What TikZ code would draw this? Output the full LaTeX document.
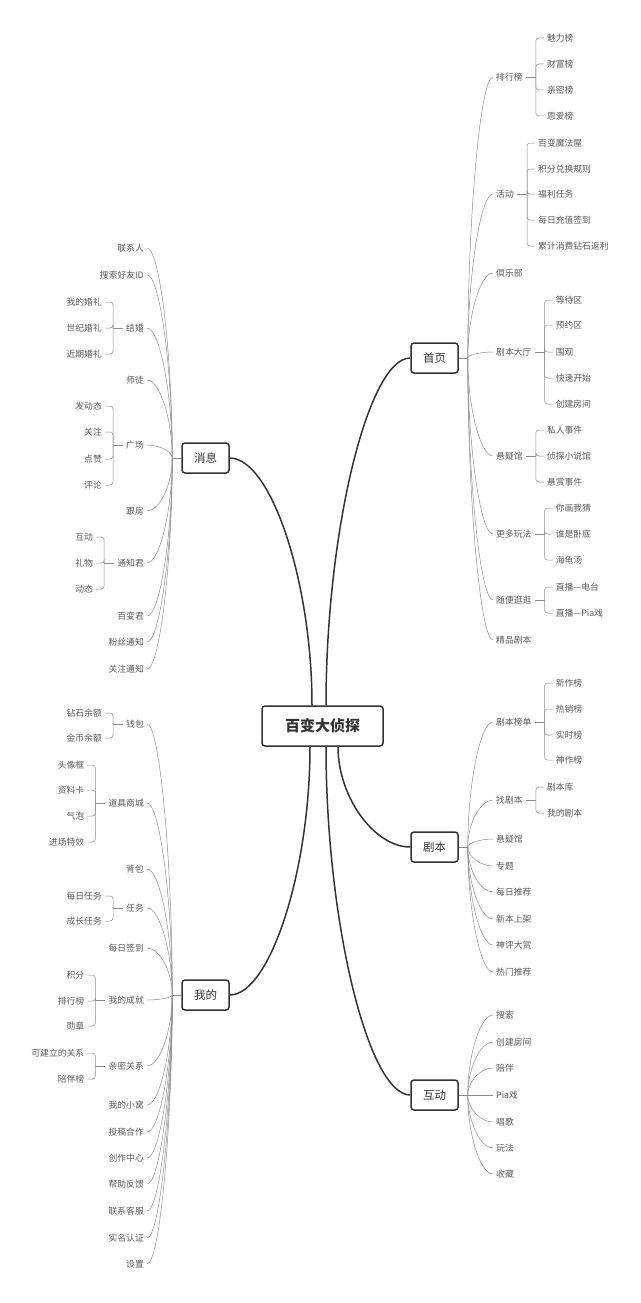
\documentclass[tikz,border=0pt]{standalone}
\usepackage{fontspec}
\setmainfont{Noto Sans CJK SC}
\usetikzlibrary{calc}

\definecolor{inkdark}{HTML}{333333}
\definecolor{inkgray}{HTML}{585858}
\definecolor{wiregray}{HTML}{8C8C8C}

\tikzset{
  rootbox/.style={draw=inkdark, line width=1.5pt, rounded corners=3pt, fill=white,
    text=inkdark, font=\fontsize{15}{16}\selectfont\bfseries,
    minimum width=121pt, minimum height=40pt, inner sep=0pt},
  topic/.style={draw=inkdark, line width=1.5pt, rounded corners=3pt, fill=white,
    text=inkdark, font=\fontsize{11.5}{12}\selectfont,
    minimum width=47pt, minimum height=30pt, inner sep=0pt},
  leaf/.style={text=inkgray, font=\fontsize{8.8}{9}\selectfont, inner xsep=3pt, inner ysep=1pt},
  leafr/.style={leaf, anchor=west},
  leafl/.style={leaf, anchor=east},
  mapcurve/.style={to path={.. controls ($(\tikztostart)!0.5!(\tikztostart |- \tikztotarget)$)
    and ($(\tikztotarget)!0.5!(\tikztostart |- \tikztotarget)$) .. (\tikztotarget)}},
  thick wire/.style={draw=inkdark, line width=1.5pt, mapcurve},
  thin wire/.style={draw=wiregray, line width=0.5pt},
}

\begin{document}
\begin{tikzpicture}[x=1pt, y=-1pt]
  \useasboundingbox (0,0) rectangle (640,1303);

  % centre and main topics
  \node[rootbox] (main) at (322.5,726) {百变大侦探};
  \node[topic] (home) at (434.5,358) {首页};
  \node[topic] (msg) at (205.5,458) {消息};
  \node[topic] (script) at (434.5,847) {剧本};
  \node[topic] (mine) at (205.5,995) {我的};
  \node[topic] (play) at (434.5,1095) {互动};

  \coordinate (mt1) at ([xshift=-10.5pt]main.north);
  \coordinate (mt2) at ([xshift=3.5pt]main.north);
  \coordinate (mb1) at ([xshift=-12.5pt]main.south);
  \coordinate (mb2) at ([xshift=3.5pt]main.south);
  \coordinate (mb3) at ([xshift=15.5pt]main.south);
  \draw[thick wire] (mt2) to (home.west);
  \draw[thick wire] (mt1) to (msg.east);
  \draw[thick wire] (mb3) to (script.west);
  \draw[thick wire] (mb1) to (mine.east);
  \draw[thick wire] (mb2) to (play.west);

  % hubs
  \coordinate (homehub) at ([xshift=9pt]home.east);
  \coordinate (scripthub) at ([xshift=9pt]script.east);
  \coordinate (playhub) at ([xshift=9pt]play.east);
  \coordinate (msghub) at ([xshift=-9pt]msg.west);
  \coordinate (minehub) at ([xshift=-9pt]mine.west);
  \draw[thin wire] (home.east) -- (homehub);
  \draw[thin wire] (script.east) -- (scripthub);
  \draw[thin wire] (play.east) -- (playhub);
  \draw[thin wire] (msg.west) -- (msghub);
  \draw[thin wire] (mine.west) -- (minehub);

  % 首页
  \foreach \n/\y/\t in {a1/77/排行榜, a2/194/活动, a3/273/俱乐部, a4/352/剧本大厅,
      a5/456/悬疑馆, a6/534/更多玩法, a7/600/随便逛逛, a8/640/精品剧本} {
    \node[leafr] (\n) at (493,\y) {\t};
    \draw[thin wire, mapcurve] (homehub) to (\n.west);
  }
  % 剧本
  \foreach \n/\y/\t in {j1/722/剧本榜单, j2/800/找剧本, j3/839/悬疑馆, j4/866/专题,
      j5/892/每日推荐, j6/919/新本上架, j7/945/神评大赏, j8/972/热门推荐} {
    \node[leafr] (\n) at (493,\y) {\t};
    \draw[thin wire, mapcurve] (scripthub) to (\n.west);
  }
  % 互动
  \foreach \n/\y/\t in {p1/1015/搜索, p2/1042/创建房间, p3/1068/陪伴, p4/1095/Pia戏,
      p5/1122/唱歌, p6/1148/玩法, p7/1174/收藏} {
    \node[leafr] (\n) at (493,\y) {\t};
    \draw[thin wire, mapcurve] (playhub) to (\n.west);
  }
  % 消息
  \foreach \n/\y/\t in {m1/248/联系人, m2/275/搜索好友ID, m3/328/结婚, m4/380/师徒,
      m5/445/广场, m6/511/跟房, m7/563/通知君, m8/616/百变君, m9/642/粉丝通知,
      m10/669/关注通知} {
    \node[leafl] (\n) at (147,\y) {\t};
    \draw[thin wire, mapcurve] (msghub) to (\n.east);
  }
  % 我的
  \foreach \n/\y/\t in {w1/724/钱包, w2/803/道具商城, w3/869/背包, w4/908/任务,
      w5/948/每日签到, w6/1000/我的成就, w7/1066/亲密关系, w8/1105/我的小窝,
      w9/1132/投稿合作, w10/1158/创作中心, w11/1184/帮助反馈, w12/1211/联系客服,
      w13/1238/实名认证, w14/1264/设置} {
    \node[leafl] (\n) at (147,\y) {\t};
    \draw[thin wire, mapcurve] (minehub) to (\n.east);
  }

  % brackets, right side
  \foreach \p/\list in {a1/{魅力榜/38, 财富榜/64, 亲密榜/90, 恩爱榜/116},
      a2/{百变魔法屋/143, 积分兑换规则/169, 福利任务/194, 每日充值签到/220, 累计消费钻石返利/246},
      a4/{等待区/300, 预约区/325, 围观/352, 快速开始/378, 创建房间/404},
      a5/{私人事件/430, 侦探小说馆/456, 悬赏事件/482},
      a6/{你画我猜/508, 谁是卧底/534, 海龟汤/560},
      a7/{直播—电台/587, 直播—Pia戏/613},
      j1/{新作榜/683, 热销榜/709, 实时榜/735, 神作榜/760},
      j2/{剧本库/787, 我的剧本/813}} {
    \coordinate (\p brace) at ([xshift=10pt]\p.east);
    \draw[thin wire] (\p.east) -- (\p brace);
    \foreach \t/\y [count=\i] in \list {
      \node[leafr, xshift=8pt] (\p-\i) at (\p brace |- 0,\y) {\t};
      \draw[thin wire, rounded corners=3pt] (\p brace) |- (\p-\i.west);
    }
  }
  % brackets, left side
  \foreach \p/\list in {m3/{我的婚礼/302, 世纪婚礼/328, 近期婚礼/354},
      m5/{发动态/406, 关注/432, 点赞/459, 评论/485},
      m7/{互动/537, 礼物/563, 动态/589},
      w1/{钻石余额/713, 金币余额/738},
      w2/{头像框/765, 资料卡/790, 气泡/816, 进场特效/842},
      w4/{每日任务/896, 成长任务/921},
      w6/{积分/975, 排行榜/1001, 勋章/1026},
      w7/{可建立的关系/1053, 陪伴榜/1079}} {
    \coordinate (\p brace) at ([xshift=-10pt]\p.west);
    \draw[thin wire] (\p.west) -- (\p brace);
    \foreach \t/\y [count=\i] in \list {
      \node[leafl, xshift=-8pt] (\p-\i) at (\p brace |- 0,\y) {\t};
      \draw[thin wire, rounded corners=3pt] (\p brace) |- (\p-\i.east);
    }
  }
\end{tikzpicture}
\end{document}
